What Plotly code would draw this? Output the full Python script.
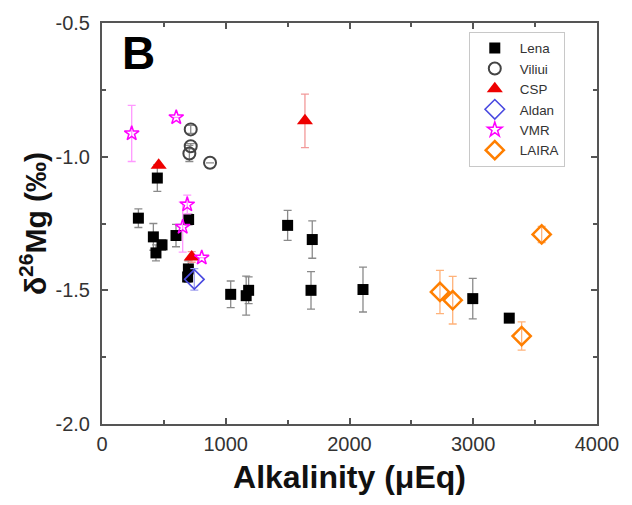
import plotly.graph_objects as go

# ---- data ----
lena_x = [294, 415, 436, 485, 447, 598, 700, 698, 692, 1040, 1165, 1185, 1500, 1699, 1689, 2109, 2996, 3291]
lena_y = [-1.23, -1.30, -1.36, -1.33, -1.08, -1.295, -1.235, -1.42, -1.45, -1.515, -1.52, -1.50, -1.257, -1.31, -1.50, -1.497, -1.531, -1.604]
lena_err = [0.035, 0.05, 0.03, 0.02, 0.05, 0.042, 0.02, 0.03, 0.02, 0.05, 0.073, 0.05, 0.056, 0.07, 0.07, 0.084, 0.076, None]

viliui_x = [717, 717, 706, 873]
viliui_y = [-0.898, -0.961, -0.988, -1.023]
viliui_err = [0.015, 0.01, 0.03, None]

csp_x = [458, 1640, 725]
csp_y = [-1.032, -0.866, -1.375]
csp_err = [None, 0.10, 0.02]

aldan_x = [746]
aldan_y = [-1.459]
aldan_err = [0.04]

vmr_x = [240, 600, 689, 652, 806]
vmr_y = [-0.913, -0.853, -1.179, -1.263, -1.378]
vmr_err = [0.105, None, 0.035, 0.094, None]

laira_x = [2731, 2834, 3391, 3553]
laira_y = [-1.506, -1.537, -1.671, -1.291]
laira_err = [0.081, 0.089, 0.053, 0.03]

x_ticks = [0, 1000, 2000, 3000, 4000]
y_ticks = [-2.0, -1.5, -1.0, -0.5]

FONT = "Liberation Sans, Arial, sans-serif"

series = [
    ("Lena", lena_x, lena_y, lena_err,
     dict(symbol="square", size=11, color="black", line=dict(width=0)), "#8a8a8a"),
    ("Viliui", viliui_x, viliui_y, viliui_err,
     dict(symbol="circle-open", size=12, color="#444444", line=dict(width=2)), "#8a8a8a"),
    ("CSP", csp_x, csp_y, csp_err,
     dict(symbol="triangle-up", size=14, color="#ee0000", line=dict(width=0)), "#f29a9a"),
    ("Aldan", aldan_x, aldan_y, aldan_err,
     dict(symbol="diamond-open", size=15, color="#4a4ae0", line=dict(width=1.6)), "#a0a0ee"),
    ("VMR", vmr_x, vmr_y, vmr_err,
     dict(symbol="star-open", size=11, color="#ff00ff", line=dict(width=1.5)), "#ff99ff"),
    ("LAIRA", laira_x, laira_y, laira_err,
     dict(symbol="diamond-open", size=14, color="#ff7f00", line=dict(width=2.5)), "#ffb27a"),
]

fig = go.Figure()
for name, xs, ys, errs, marker, ecol in series:
    fig.add_trace(go.Scatter(
        x=xs, y=ys, mode="markers", name=name, marker=marker,
        error_y=dict(type="data", array=errs, visible=True, color=ecol, thickness=1.3, width=4),
    ))

axis_common = dict(
    showline=True, linecolor="#555555", linewidth=2, mirror="ticks",
    ticks="inside", ticklen=6, tickwidth=1.5, tickcolor="#555555",
    showgrid=False, zeroline=False, automargin=False,
    tickfont=dict(family=FONT, size=20, color="#333333"),
)

fig.update_xaxes(
    range=[0, 4000], tickvals=x_ticks, ticktext=[str(v) for v in x_ticks],
    minor=dict(dtick=500, ticks="inside", ticklen=4, tickwidth=1.5, tickcolor="#555555"),
    title=dict(text="<b>Alkalinity (μEq)</b>", font=dict(family=FONT, size=32, color="#111111"), standoff=12),
    ticklabelstandoff=1,
    **axis_common,
)
fig.update_yaxes(
    range=[-2.0, -0.5], tickvals=y_ticks, ticktext=[f"{v:.1f}" for v in y_ticks],
    minor=dict(dtick=0.25, ticks="inside", ticklen=4, tickwidth=1.5, tickcolor="#555555"),
    title=dict(text="<b>δ<sup>26</sup>Mg (‰)</b>", font=dict(family=FONT, size=30, color="#111111"), standoff=0),
    ticklabelstandoff=6,
    **axis_common,
)

fig.add_annotation(
    text="<b>B</b>", x=0.037, y=0.995, xref="paper", yref="paper",
    xanchor="left", yanchor="top", showarrow=False,
    font=dict(family=FONT, size=46, color="black"),
)

fig.update_layout(
    width=624, height=497,
    margin=dict(l=94, r=35, t=15, b=81),
    plot_bgcolor="white", paper_bgcolor="white",
    showlegend=True,
    legend=dict(
        x=0.741, y=0.978, xanchor="left", yanchor="top",
        bordercolor="#c8c8c8", borderwidth=1, bgcolor="white",
        font=dict(family=FONT, size=13.4, color="#333333"),
        itemwidth=40, tracegroupgap=0,
    ),
)

fig.write_html("out.html")
